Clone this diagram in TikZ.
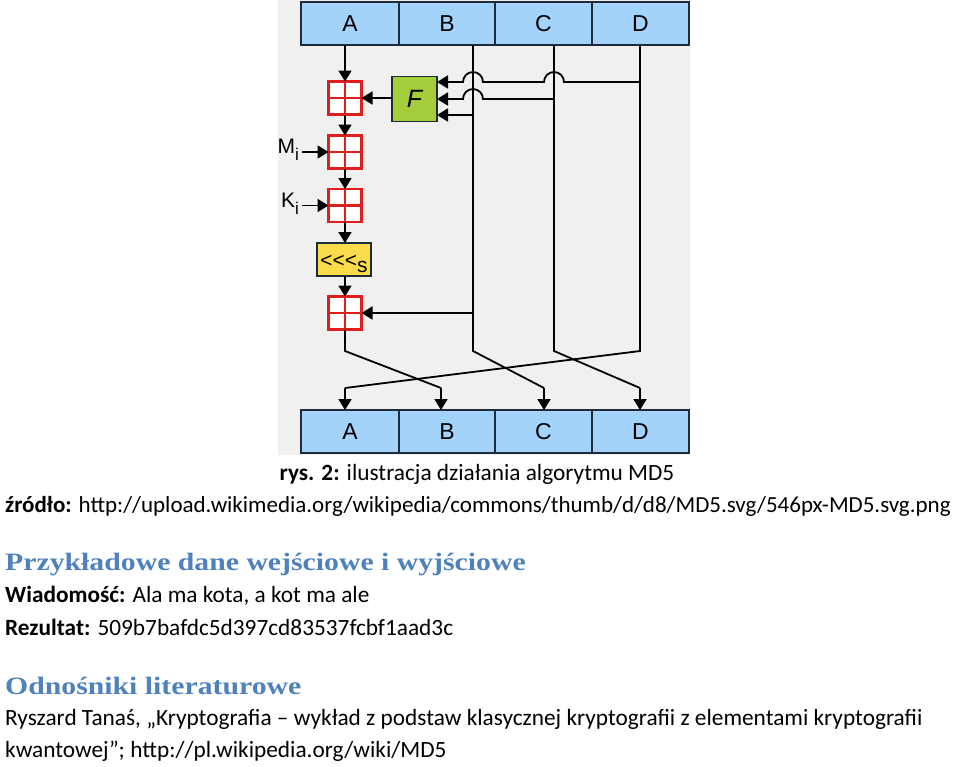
\documentclass[tikz,border=0pt]{standalone}
\usepackage{fontspec}
\setmainfont{Carlito}
\newfontfamily\arialf{Liberation Sans}
\newfontfamily\headf{Liberation Serif}
\usetikzlibrary{arrows.meta}
\definecolor{bgray}{HTML}{F0F0F0}
\definecolor{regblue}{HTML}{A3D2FB}
\definecolor{regline}{HTML}{1E2B38}
\definecolor{addred}{HTML}{E01E1E}
\definecolor{fgreen}{HTML}{A5CC3A}
\definecolor{shyellow}{HTML}{FADC4A}
\definecolor{headblue}{HTML}{4F81BD}
\tikzset{
  reg/.style={draw=regline, line width=1.8pt, fill=regblue, minimum height=43pt, inner sep=0pt, outer sep=0pt, font=\arialf\fontsize{23}{23}\selectfont},
  adder/.style={draw=addred, line width=2.4pt, fill=white, minimum width=33pt, minimum height=33pt, inner sep=0pt, outer sep=0pt,
    path picture={\draw[addred, line width=2.4pt] (path picture bounding box.north) -- (path picture bounding box.south) (path picture bounding box.west) -- (path picture bounding box.east);}},
  fbox/.style={draw=regline, line width=1.6pt, fill=fgreen, minimum width=45pt, minimum height=45pt, inner sep=0pt, outer sep=0pt, font=\arialf\itshape\fontsize{25}{25}\selectfont},
  shbox/.style={draw=regline, line width=1.6pt, fill=shyellow, minimum width=54pt, minimum height=33pt, inner sep=0pt, outer sep=0pt, font=\arialf\fontsize{21}{21}\selectfont},
  lbl/.style={inner sep=0pt, font=\arialf\fontsize{21}{21}\selectfont},
  wire/.style={line width=1.8pt, black},
  arr/.style={wire, -{Triangle[length=11pt,width=13pt]}},
  txt/.style={inner sep=0pt, anchor=base west, font=\fontsize{23.3}{26}\selectfont},
  head/.style={inner sep=0pt, anchor=base west, text=headblue, font=\headf\bfseries\fontsize{25}{28}\selectfont},
}
\begin{document}
\begin{tikzpicture}[x=1pt,y=-1pt]
\useasboundingbox (0,0) rectangle (960,766);
\fill[bgray] (278,0) rectangle (690,455);
% top register
\node[reg, minimum width=98pt] (tA) at (350,23.5) {A};
\node[reg, minimum width=96pt] (tB) at (447,23.5) {B};
\node[reg, minimum width=97pt] (tC) at (543.5,23.5) {C};
\node[reg, minimum width=97pt] (tD) at (640.5,23.5) {D};
% bottom register
\node[reg, minimum width=98pt] (bA) at (350,431.5) {A};
\node[reg, minimum width=96pt] (bB) at (447,431.5) {B};
\node[reg, minimum width=97pt] (bC) at (543.5,431.5) {C};
\node[reg, minimum width=97pt] (bD) at (640.5,431.5) {D};
% left column
\node[adder] (a1) at (345,98) {};
\node[fbox] (F) at (414.5,99) {F};
\node[adder] (a2) at (345,152) {};
\node[adder] (a3) at (345,205.5) {};
\node[shbox] (sh) at (344,259.5) {\raisebox{-8pt}[0pt][0pt]{<<<\raisebox{-5pt}{s}}};
\node[adder] (a4) at (345,313) {};
\node[lbl, anchor=east] (mi) at (299,150) {M\raisebox{-7pt}{\fontsize{17}{17}\selectfont i}};
\node[lbl, anchor=east] (ki) at (299,203.5) {K\raisebox{-7pt}{\fontsize{17}{17}\selectfont i}};
% coordinates of wires
\coordinate (xB) at (473,0);
\coordinate (xC) at (554,0);
\coordinate (xD) at (640,0);
\coordinate (yF1) at (0,82);
\coordinate (yF3) at (0,115);
\coordinate (bend) at (0,351);
\coordinate (knee) at (0,388);
\coordinate (eA) at (345,0);
\coordinate (eB) at (441,0);
\coordinate (eC) at (544,0);
\coordinate (eD) at (640,0);
% left column arrows
\draw[arr] (tA.south -| a1) -- (a1.north);
\draw[arr] (F.west |- a1) -- (a1.east);
\draw[arr] (a1.south) -- (a2.north);
\draw[arr] (a2.south) -- (a3.north);
\draw[arr] (a3.south) -- (sh.north -| a3);
\draw[arr] (sh.south -| a4) -- (a4.north);
\draw[arr] (mi.east |- a2) ++(3,0) -- (a2.west);
\draw[arr] (ki.east |- a3) ++(3,0) -- (a3.west);
% vertical lines
\draw[wire] (tB.south -| xB) -- (xB |- bend) -- (eC |- knee);
\draw[wire] (tC.south -| xC) -- (xC |- bend) -- (eD |- knee);
\draw[wire] (tD.south -| xD) -- (xD |- bend) -- (eA |- knee);
\draw[wire] (a4.south) -- (a4 |- bend) -- (eB |- knee);
\draw[arr] (eA |- knee) -- (eA |- bA.north);
\draw[arr] (eB |- knee) -- (eB |- bB.north);
\draw[arr] (eC |- knee) -- (eC |- bC.north);
\draw[arr] (eD |- knee) -- (eD |- bD.north);
% feeds into F
\draw[arr] (xD |- yF1) -- ([xshift=10pt]xC |- yF1) arc[start angle=0, end angle=-180, radius=10] -- ([xshift=10pt]xB |- yF1) arc[start angle=0, end angle=-180, radius=10] -- (F.east |- yF1);
\draw[arr] (xC |- F) -- ([xshift=10pt]xB |- F) arc[start angle=0, end angle=-180, radius=10] -- (F.east);
\draw[arr] (xB |- yF3) -- (F.east |- yF3);
\draw[arr] (xB |- a4) -- (a4.east);
% text
\node[inner sep=0pt, anchor=base, font=\fontsize{23.3}{26}\selectfont] (cap) at (477,480) {\textbf{rys. 2:} ilustracja działania algorytmu MD5};
\node[txt, font=\fontsize{23}{26}\selectfont] (src) at (5,512) {\textbf{źródło:} http://upload.wikimedia.org/wikipedia/commons/thumb/d/d8/MD5.svg/546px-MD5.svg.png};
\node[head] (h1) at (5,570) {\scalebox{1.19}[1]{Przykładowe dane wejściowe i wyjściowe}};
\node[txt] (msg) at (5,602) {\textbf{Wiadomość:} Ala ma kota, a kot ma ale};
\node[txt] (res) at (5,635) {\textbf{Rezultat:} 509b7bafdc5d397cd83537fcbf1aad3c};
\node[head] (h2) at (5,694) {\scalebox{1.19}[1]{Odnośniki literaturowe}};
\node[txt] (r1) at (5,725) {Ryszard Tanaś, „Kryptografia – wykład z podstaw klasycznej kryptografii z elementami kryptografii};
\node[txt] (r2) at (5,757) {kwantowej”; http://pl.wikipedia.org/wiki/MD5};
\end{tikzpicture}
\end{document}
